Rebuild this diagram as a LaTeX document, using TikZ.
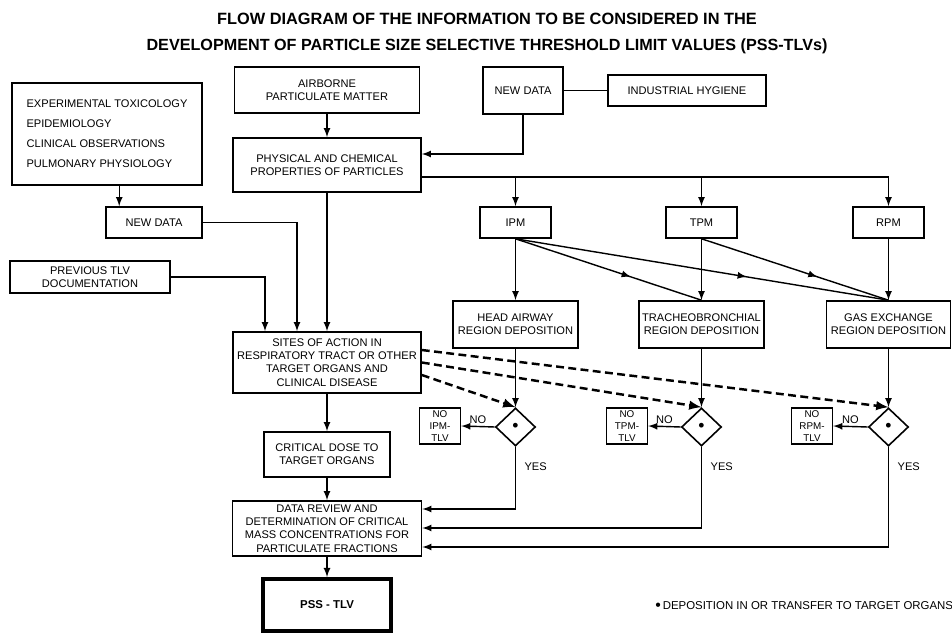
\documentclass[tikz,border=0pt]{standalone}
\usepackage{fontspec}
\setmainfont{Liberation Sans}
\usetikzlibrary{arrows,shapes.geometric,calc,decorations.markings}
\newcommand\boxfont{\fontsize{6.3}{7.6}\selectfont}
\tikzset{
  >=latex,
  flowbox/.style={draw,rectangle,line width=0.9pt,inner sep=0pt,font=\boxfont,align=center},
  nobox/.style={draw,rectangle,line width=0.8pt,inner sep=0pt,minimum width=0.82cm,minimum height=0.72cm,font=\fontsize{5.6}{6.6}\selectfont,align=center},
  testbox/.style={draw,diamond,line width=0.9pt,minimum width=0.8cm,minimum height=0.76cm,inner sep=0pt,font=\fontsize{10}{10}\selectfont},
  link/.style={line width=0.8pt,->},
  dashlink/.style={line width=1.4pt,dash pattern=on 4.5pt off 2.5pt,->},
  midarrow/.style={line width=0.8pt,decoration={markings,mark=at position 0.62 with {\arrow{latex}}},postaction={decorate}},
  lbl/.style={font=\boxfont,inner sep=1pt}
}
\begin{document}
\begin{tikzpicture}[x=0.2mm,y=-0.2mm]
\useasboundingbox[fill=white](0,0) rectangle (952,635);
%title
\node[font=\bfseries\fontsize{9.3}{11}\selectfont] (title1) at (487,19) {FLOW DIAGRAM OF THE INFORMATION TO BE CONSIDERED IN THE};
\node[font=\bfseries\fontsize{9.2}{11}\selectfont] (title2) at (487,46) {DEVELOPMENT OF PARTICLE SIZE SELECTIVE THRESHOLD LIMIT VALUES (PSS-TLVs)};
%upper boxes
\node[flowbox,minimum width=3.8cm,minimum height=2.04cm,align=left,font=\fontsize{6.3}{11.4}\selectfont] (exptox) at (107,134) {EXPERIMENTAL TOXICOLOGY\\EPIDEMIOLOGY\\CLINICAL OBSERVATIONS\\PULMONARY PHYSIOLOGY};
\node[flowbox,minimum width=3.7cm,minimum height=0.92cm] (airborne) at (327,90) {AIRBORNE\\PARTICULATE MATTER};
\node[flowbox,minimum width=1.6cm,minimum height=0.94cm] (newdatatop) at (523,90.5) {NEW DATA};
\node[flowbox,minimum width=3.16cm,minimum height=0.62cm] (hygiene) at (687,90.5) {INDUSTRIAL HYGIENE};
\node[flowbox,minimum width=3.76cm,minimum height=1.08cm] (physchem) at (327,165) {PHYSICAL AND CHEMICAL\\PROPERTIES OF PARTICLES};
\node[flowbox,minimum width=1.92cm,minimum height=0.62cm] (newdataleft) at (154,222.5) {NEW DATA};
\node[flowbox,minimum width=3.2cm,minimum height=0.64cm] (prevtlv) at (90,277) {PREVIOUS TLV\\DOCUMENTATION};
%particle fractions
\node[flowbox,minimum width=1.42cm,minimum height=0.62cm] (ipm) at (515.5,222.5) {IPM};
\node[flowbox,minimum width=1.42cm,minimum height=0.62cm] (tpm) at (701.5,222.5) {TPM};
\node[flowbox,minimum width=1.42cm,minimum height=0.62cm] (rpm) at (888.5,222.5) {RPM};
\node[flowbox,minimum width=2.5cm,minimum height=0.94cm] (headair) at (515.5,324.5) {HEAD AIRWAY\\REGION DEPOSITION};
\node[flowbox,minimum width=2.5cm,minimum height=0.94cm] (tracheo) at (701.5,324.5) {TRACHEOBRONCHIAL\\REGION DEPOSITION};
\node[flowbox,minimum width=2.48cm,minimum height=0.94cm] (gasex) at (888.5,324.5) {GAS EXCHANGE\\REGION DEPOSITION};
%decisions
\node[testbox] (test1) at (515.5,427) {\textbullet};
\node[testbox] (test2) at (701.5,427) {\textbullet};
\node[testbox] (test3) at (888.5,427) {\textbullet};
\node[nobox] (noipm) at (440,426) {NO\\IPM-\\TLV};
\node[nobox] (notpm) at (627,426) {NO\\TPM-\\TLV};
\node[nobox] (norpm) at (812,426) {NO\\RPM-\\TLV};
%centre column
\node[flowbox,minimum width=3.76cm,minimum height=1.22cm] (sites) at (327,362.5) {SITES OF ACTION IN\\RESPIRATORY TRACT OR OTHER\\TARGET ORGANS AND\\CLINICAL DISEASE};
\node[flowbox,minimum width=2.52cm,minimum height=0.9cm] (critdose) at (327,454.5) {CRITICAL DOSE TO\\TARGET ORGANS};
\node[flowbox,minimum width=3.78cm,minimum height=1.1cm] (datarev) at (327,528.5) {DATA REVIEW AND\\DETERMINATION OF CRITICAL\\MASS CONCENTRATIONS FOR\\PARTICULATE FRACTIONS};
\node[flowbox,minimum width=2.56cm,minimum height=1.04cm,line width=2.2pt,font=\bfseries\fontsize{6.5}{8}\selectfont] (psstlv) at (327,605) {PSS - TLV};
%connectors
\draw[link] (airborne) -- (physchem);
\draw[link] ([xshift=2.8mm]newdataleft.north west |- exptox.south) -- ([xshift=2.8mm]newdataleft.north west);
\draw[line width=0.8pt] (newdatatop) -- (hygiene);
\draw[link] (newdatatop.south) |- ([yshift=2.2mm]physchem.east);
\coordinate (bus) at ([yshift=-2.4mm]physchem.east);
\draw[link] (bus) -| (rpm.north);
\draw[link] (bus -| ipm.north) -- (ipm.north);
\draw[link] (bus -| tpm.north) -- (tpm.north);
\draw[link] (newdataleft.east) -| ([xshift=-6mm]sites.north);
\draw[link] (prevtlv.east) -| ([xshift=-12.4mm]sites.north);
\draw[link] (physchem) -- (sites);
\draw[link] (ipm) -- (headair);
\draw[link] (tpm) -- (tracheo);
\draw[link] (rpm) -- (gasex);
\draw[midarrow] (ipm.south) -- (tracheo.north);
\draw[midarrow] (ipm.south) -- (gasex.north);
\draw[midarrow] (tpm.south) -- (gasex.north);
\foreach \reg/\tst/\nob in {headair/test1/noipm,tracheo/test2/notpm,gasex/test3/norpm}{
\draw[link] (\reg) -- (\tst);
\draw[link] (\tst.west) -- (\nob.east) node[lbl,midway,above] {NO};
\node[lbl,anchor=west] at ([xshift=1.4mm]\tst.south |- 0,467) {YES};}
\draw[link] (test1.south) |- ([yshift=3.9mm]datarev.east);
\draw[link] (test2.south) |- ([yshift=0.1mm]datarev.east);
\draw[link] (test3.south) |- ([yshift=-3.7mm]datarev.east);
\draw[dashlink] ([yshift=2.5mm]sites.east) -- (test3.north);
\draw[dashlink] (sites.east) -- (test2.north);
\draw[dashlink] ([yshift=-2.5mm]sites.east) -- (test1.north);
\draw[link] (sites) -- (critdose);
\draw[link] (critdose) -- (datarev);
\draw[link] (datarev) -- (psstlv);
%footnote
\node[anchor=west,inner sep=0pt,font=\fontsize{6.5}{7}\selectfont] (note) at (655,606) {\raisebox{-0.25ex}{\fontsize{9}{9}\selectfont\textbullet}\,DEPOSITION IN OR TRANSFER TO TARGET ORGANS};
\end{tikzpicture}
\end{document}
